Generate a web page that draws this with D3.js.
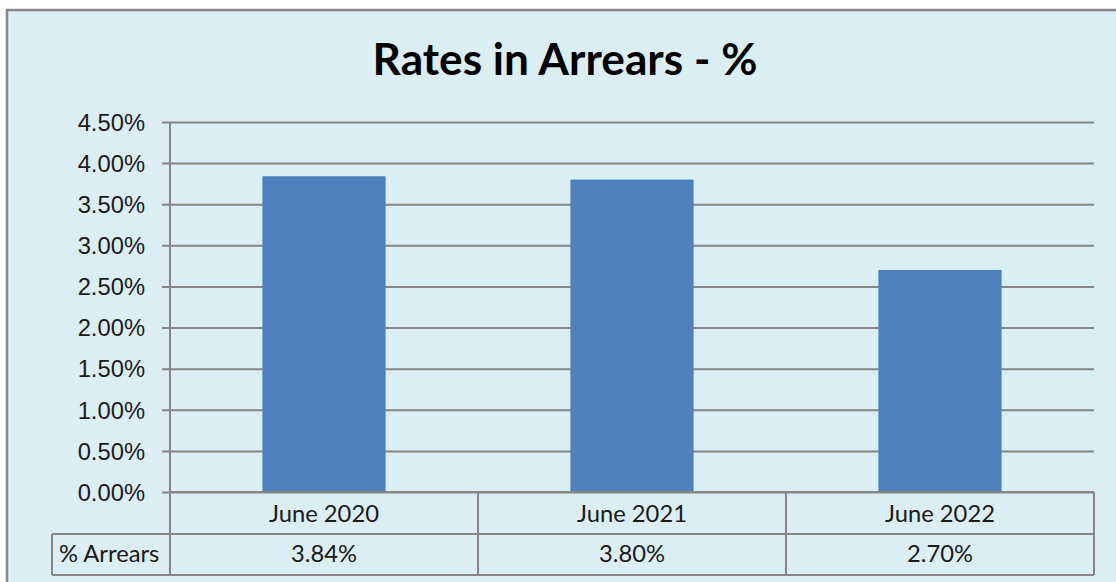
<!DOCTYPE html>
<html>
<head>
<meta charset="utf-8">
<script src="https://cdn.jsdelivr.net/npm/d3@7"></script>
<style>
  body { margin: 0; background: #fff; }
  svg { display: block; font-family: Lato, "Open Sans", sans-serif; }
</style>
</head>
<body>
<div id="chart"></div>
<script>
const TITLE = 'Rates in Arrears - %';
const categories = ['June 2020', 'June 2021', 'June 2022'];
const arrears = [0.0384, 0.0380, 0.0270];
const valueLabels = ['3.84%', '3.80%', '2.70%'];
const seriesName = '% Arrears';
const yTicks = [0, 0.005, 0.01, 0.015, 0.02, 0.025, 0.03, 0.035, 0.04, 0.045];

const WIDTH = 1116, HEIGHT = 582;
const PLOT = {left: 170, right: 1094, top: 122, bottom: 492};
const ROW1 = 534, ROW2 = 575, HEADER_LEFT = 52;
const GRID = '#868686';
const TEXT = '#1a1a1a';

const svg = d3.select('#chart').append('svg')
  .attr('width', WIDTH)
  .attr('height', HEIGHT);

// chart area with border
svg.append('rect')
  .attr('x', 7).attr('y', 10)
  .attr('width', 1300).attr('height', 700)
  .attr('fill', '#dbeef4')
  .attr('stroke', GRID)
  .attr('stroke-width', 2.5);

// fit font size of a text so its width matches target
function fit(sel, target) {
  const w = sel.node().getComputedTextLength();
  const fs = parseFloat(sel.attr('font-size'));
  return fs * target / w;
}

const title = svg.append('text')
  .attr('x', 565).attr('y', 75)
  .attr('text-anchor', 'middle')
  .attr('font-weight', 'bold')
  .attr('font-size', 40)
  .attr('fill', '#000')
  .text(TITLE);
title.attr('font-size', fit(title, 385));

// label font size from a probe
const probe = svg.append('text').attr('font-size', 20).text(categories[0]);
const LABEL_SIZE = fit(probe, 110);
probe.remove();

const y = d3.scaleLinear()
  .domain([0, 0.045])
  .range([PLOT.bottom, PLOT.top]);

const cols = d3.scaleBand()
  .domain(categories)
  .range([PLOT.left, PLOT.right]);

const x = d3.scaleBand()
  .domain(categories)
  .range([PLOT.left, PLOT.right])
  .paddingInner(0.6)
  .paddingOuter(0.3);

// y axis + gridlines
const yAxis = d3.axisLeft(y)
  .tickValues(yTicks)
  .tickFormat(d3.format('.2%'))
  .tickSizeInner(-(PLOT.right - PLOT.left))
  .tickSizeOuter(0);

const gy = svg.append('g')
  .attr('class', 'y-axis')
  .attr('transform', 'translate(' + PLOT.left + ',0)')
  .call(yAxis);

gy.select('.domain').remove();
gy.selectAll('.tick line')
  .attr('x1', -8)
  .attr('stroke', GRID)
  .attr('stroke-width', 2);
gy.selectAll('.tick text')
  .attr('x', -25)
  .attr('dy', '0.35em')
  .attr('font-size', LABEL_SIZE)
  .attr('font-family', null)
  .attr('fill', TEXT);

// bars
svg.append('g')
  .selectAll('rect')
  .data(arrears)
  .join('rect')
  .attr('x', (d, i) => x(categories[i]))
  .attr('y', d => y(d))
  .attr('width', x.bandwidth())
  .attr('height', d => y(0) - y(d))
  .attr('fill', '#4f81bd');

// vertical axis line through table
const lines = svg.append('g')
  .attr('stroke', GRID)
  .attr('stroke-width', 2)
  .attr('fill', 'none');

lines.append('line')
  .attr('x1', PLOT.left).attr('x2', PLOT.left)
  .attr('y1', PLOT.top).attr('y2', ROW2);

lines.append('line')
  .attr('x1', PLOT.left).attr('x2', PLOT.right)
  .attr('y1', y(0)).attr('y2', y(0));

[ROW1, ROW2].forEach(r => {
  lines.append('line')
    .attr('x1', HEADER_LEFT).attr('x2', PLOT.right)
    .attr('y1', r).attr('y2', r);
});

lines.append('line')
  .attr('x1', HEADER_LEFT).attr('x2', HEADER_LEFT)
  .attr('y1', ROW1).attr('y2', ROW2);

categories.forEach(c => {
  const xr = cols(c) + cols.bandwidth();
  lines.append('line')
    .attr('x1', xr).attr('x2', xr)
    .attr('y1', y(0)).attr('y2', ROW2);
});

// data table text
svg.append('g')
  .selectAll('text')
  .data(categories)
  .join('text')
  .attr('x', d => cols(d) + cols.bandwidth() / 2)
  .attr('y', 522)
  .attr('text-anchor', 'middle')
  .attr('font-size', LABEL_SIZE)
  .attr('fill', TEXT)
  .text(d => d);

svg.append('g')
  .selectAll('text')
  .data(valueLabels)
  .join('text')
  .attr('x', (d, i) => cols(categories[i]) + cols.bandwidth() / 2)
  .attr('y', 562)
  .attr('text-anchor', 'middle')
  .attr('font-size', LABEL_SIZE)
  .attr('fill', TEXT)
  .text(d => d);

svg.append('text')
  .attr('x', 59)
  .attr('y', 562)
  .attr('font-size', LABEL_SIZE)
  .attr('fill', TEXT)
  .text(seriesName);
</script>
</body>
</html>
